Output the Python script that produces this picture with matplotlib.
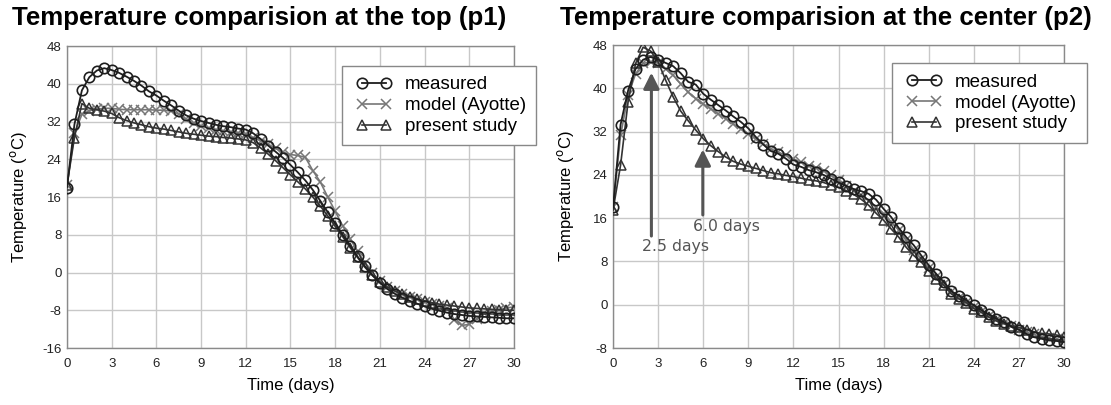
import matplotlib
matplotlib.use("Agg")
import matplotlib.pyplot as plt
from matplotlib.legend_handler import HandlerLine2D

# sampling times (days), every half day
DAYS = [0.0, 0.5, 1.0, 1.5, 2.0, 2.5, 3.0, 3.5, 4.0, 4.5, 5.0, 5.5, 6.0, 6.5, 7.0, 7.5,
        8.0, 8.5, 9.0, 9.5, 10.0, 10.5, 11.0, 11.5, 12.0, 12.5, 13.0, 13.5, 14.0, 14.5,
        15.0, 15.5, 16.0, 16.5, 17.0, 17.5, 18.0, 18.5, 19.0, 19.5, 20.0, 20.5, 21.0,
        21.5, 22.0, 22.5, 23.0, 23.5, 24.0, 24.5, 25.0, 25.5, 26.0, 26.5, 27.0, 27.5,
        28.0, 28.5, 29.0, 29.5, 30.0]

# p1 (top)
P1_MEASURED = [18.0, 31.4, 38.6, 41.4, 42.8, 43.3, 42.9, 42.3, 41.5, 40.6, 39.6, 38.4,
               37.5, 36.4, 35.4, 34.3, 33.3, 32.6, 32.1, 31.7, 31.3, 31.0, 30.8, 30.5,
               30.3, 29.5, 28.3, 26.9, 25.6, 24.3, 22.8, 21.2, 19.5, 17.5, 15.2, 12.8,
               10.4, 8.0, 5.7, 3.4, 1.3, -0.6, -2.2, -3.5, -4.5, -5.3, -6.0, -6.6, -7.2,
               -7.7, -8.1, -8.5, -8.8, -9.0, -9.2, -9.3, -9.4, -9.5, -9.6, -9.7, -9.7]
P1_AYOTTE = [18.5, 29.5, 33.5, 34.3, 34.6, 34.8, 34.8, 34.6, 34.5, 34.5, 34.5, 34.5,
             34.4, 34.4, 34.2, 33.6, 32.5, 31.6, 31.0, 30.6, 30.3, 30.0, 29.8, 29.6,
             29.3, 28.6, 27.9, 27.2, 26.3, 25.5, 25.0, 24.8, 24.4, 21.6, 19.2, 16.0,
             13.0, 9.9, 7.2, 4.5, 2.0, -0.2, -1.8, -3.0, -3.9, -4.6, -5.2, -5.7, -6.2,
             -6.6, -7.0, -7.6, -10.0, -11.2, -11.0, -9.8, -8.6, -8.2, -7.9, -7.5, -7.3]
P1_PRESENT = [18.5, 28.6, 35.8, 34.8, 34.5, 34.2, 33.7, 32.8, 32.2, 31.7, 31.3, 30.9,
              30.6, 30.4, 30.1, 29.8, 29.5, 29.3, 29.1, 28.9, 28.8, 28.6, 28.5, 28.3,
              28.1, 27.5, 26.4, 25.1, 23.7, 22.2, 20.7, 19.2, 17.7, 16.0, 14.1, 12.0,
              9.8, 7.6, 5.3, 3.2, 1.1, -0.6, -2.0, -3.1, -3.9, -4.6, -5.1, -5.6, -6.0,
              -6.4, -6.7, -6.9, -7.1, -7.3, -7.5, -7.6, -7.7, -7.8, -7.9, -8.0, -8.0]

# p2 (center)
P2_MEASURED = [18.0, 33.3, 39.6, 43.6, 45.3, 45.8, 45.3, 44.7, 44.1, 42.8, 41.2, 40.7,
               39.0, 37.9, 36.9, 35.9, 34.8, 33.8, 32.6, 31.0, 29.6, 28.4, 27.9, 27.0,
               25.9, 25.5, 24.9, 24.5, 24.0, 23.3, 22.6, 22.0, 21.4, 21.0, 20.5, 19.4,
               17.7, 16.2, 14.2, 12.5, 11.0, 9.1, 7.3, 5.7, 4.2, 2.5, 1.7, 0.8, -0.1,
               -1.0, -1.8, -2.6, -3.2, -4.1, -4.6, -5.4, -6.0, -6.3, -6.6, -6.7, -6.9]
P2_AYOTTE = [18.0, 31.3, 38.7, 42.7, 44.6, 44.9, 44.7, 43.6, 42.4, 40.8, 39.3, 38.1,
             37.1, 36.2, 35.3, 34.4, 33.4, 32.5, 31.6, 30.6, 29.7, 28.8, 28.2, 27.6,
             27.0, 26.3, 25.7, 25.3, 24.8, 23.9, 23.0, 22.0, 21.1, 20.2, 19.2, 18.0,
             16.8, 15.3, 13.8, 12.0, 10.2, 8.5, 6.8, 5.2, 3.8, 2.4, 1.3, 0.4, -0.5,
             -1.3, -2.1, -2.8, -3.4, -4.0, -4.6, -5.1, -5.5, -5.9, -6.2, -6.4, -6.6]
P2_PRESENT = [17.5, 25.8, 37.5, 44.6, 47.6, 46.9, 44.9, 41.5, 38.4, 35.8, 34.0, 32.3,
              30.7, 29.4, 28.3, 27.3, 26.5, 26.0, 25.6, 25.2, 24.8, 24.4, 24.2, 23.9,
              23.7, 23.4, 23.1, 22.9, 22.6, 22.1, 21.7, 21.1, 20.4, 19.5, 18.4, 16.9,
              15.6, 14.0, 12.5, 10.6, 9.1, 7.9, 6.3, 4.8, 3.6, 2.0, 1.1, 0.4, -0.7,
              -1.4, -2.3, -3.0, -3.5, -3.9, -4.2, -4.6, -5.0, -5.3, -5.4, -5.6, -5.9]

X_TICKS = [0, 3, 6, 9, 12, 15, 18, 21, 24, 27, 30]
P1_Y_TICKS = [-16, -8, 0, 8, 16, 24, 32, 40, 48]
P2_Y_TICKS = [-8, 0, 8, 16, 24, 32, 40, 48]

LABELS = ["measured", "model (Ayotte)", "present study"]
TITLES = ["Temperature comparision at the top (p1)",
          "Temperature comparision at the center (p2)"]

plt.rcParams["font.family"] = ["Liberation Sans", "DejaVu Sans"]
plt.rcParams["axes.unicode_minus"] = False

fig = plt.figure(figsize=(11.11, 4.05), dpi=100)
ax1 = fig.add_axes([0.0603, 0.1407, 0.4023, 0.7457])
ax2 = fig.add_axes([0.5518, 0.1407, 0.406, 0.748])

STYLES = [
    dict(color="#1e1e1e", marker="o", markersize=7.5, markerfacecolor="none",
         markeredgewidth=1.2, linewidth=1.3, zorder=4),
    dict(color="#777777", marker="x", markersize=7, markeredgewidth=1.1,
         linewidth=1.2, zorder=3),
    dict(color="#333333", marker="^", markersize=7.5, markerfacecolor="none",
         markeredgewidth=1.1, linewidth=1.2, zorder=3),
]


def style_axes(ax, yticks, ylim):
    ax.set_xlim(0, 30)
    ax.set_ylim(*ylim)
    ax.set_xticks(X_TICKS)
    ax.set_yticks(yticks)
    ax.grid(True, color="#c8c8c8", linewidth=1.0)
    ax.set_axisbelow(True)
    for sp in ax.spines.values():
        sp.set_color("#8a8a8a")
        sp.set_linewidth(1.0)
    ax.tick_params(length=0, labelsize=9.5, colors="#222222")
    ax.tick_params(axis="x", pad=7)
    ax.tick_params(axis="y", pad=4)
    ax.set_xlabel("Time (days)", fontsize=12, labelpad=6)
    ax.set_ylabel("Temperature ($^{\\rm o}$C)", fontsize=12)


series = [(ax1, [P1_MEASURED, P1_AYOTTE, P1_PRESENT]),
          (ax2, [P2_MEASURED, P2_AYOTTE, P2_PRESENT])]
for ax, data in series:
    for vals, st, lab in zip(data, STYLES, LABELS):
        ax.plot(DAYS, vals, label=lab, **st)

style_axes(ax1, P1_Y_TICKS, (-16, 48))
style_axes(ax2, P2_Y_TICKS, (-8, 48))
ax1.yaxis.set_label_coords(-0.085, 0.5)
ax2.yaxis.set_label_coords(-0.082, 0.5)

for ax, anchor in [(ax1, (0.615, 0.934)), (ax2, (0.619, 0.94))]:
    leg = ax.legend(loc="upper left", bbox_to_anchor=anchor, fontsize=13.5,
                    frameon=True, fancybox=False, edgecolor="#888888",
                    framealpha=1, borderpad=0.55, labelspacing=0.2,
                    handlelength=2.3, handletextpad=0.5, borderaxespad=0,
                    handler_map={plt.Line2D: HandlerLine2D(numpoints=2, marker_pad=0.5)})
    leg.get_frame().set_linewidth(1.0)
    leg.set_zorder(10)

# arrows with day annotations on p2
arrow_kw = dict(arrowstyle="-|>,head_length=0.6,head_width=0.3", color="#555555",
                lw=2.2, mutation_scale=16, shrinkA=0, shrinkB=0)
ax2.annotate("", xy=(2.55, 42.9), xytext=(2.55, 12.7), arrowprops=arrow_kw, zorder=6)
ax2.annotate("", xy=(5.97, 28.7), xytext=(5.97, 16.6), arrowprops=arrow_kw, zorder=6)
ax2.text(1.93, 10.7, "2.5 days", fontsize=11.3, color="#555555", va="center",
         family="DejaVu Sans")
ax2.text(5.32, 14.4, "6.0 days", fontsize=11.3, color="#555555", va="center",
         family="DejaVu Sans")

fig.text(0.0108, 0.938, TITLES[0], fontsize=18.6, fontweight="bold", va="baseline")
fig.text(0.504, 0.938, TITLES[1], fontsize=18.6, fontweight="bold", va="baseline")

fig.savefig("out.png", dpi=100, facecolor="white")
